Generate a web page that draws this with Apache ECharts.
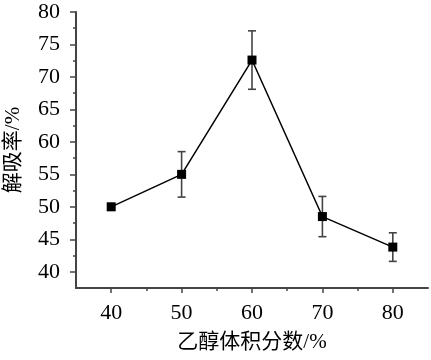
<!DOCTYPE html>
<html>
<head>
<meta charset="utf-8">
<script src="https://cdn.jsdelivr.net/npm/echarts@6/dist/echarts.min.js"></script>
<style>html,body{margin:0;padding:0;background:#fff;}#c{width:431px;height:360px;}</style>
</head>
<body>
<div id="c"></div>
<script>
const xValues = [40, 50, 60, 70, 80];
const yValues = [50.0, 55.0, 72.6, 48.5, 43.8];
const errValues = [0.5, 3.5, 4.5, 3.1, 2.2];
const xMajor = [40, 50, 60, 70, 80];
const xMinor = [45, 55, 65, 75];
const yMajor = [40, 45, 50, 55, 60, 65, 70, 75, 80];
const yMinor = [42.5, 47.5, 52.5, 57.5, 62.5, 67.5, 72.5, 77.5];
const xName = '乙醇体积分数/%';
const yName = '解吸率/%';

const font = '"Liberation Serif", "Noto Sans CJK SC", serif';
const axisColor = '#444';

const chart = echarts.init(document.getElementById('c'));
const pts = xValues.map((x, i) => [x, yValues[i]]);
const errData = xValues.map((x, i) => [x, yValues[i] - errValues[i], yValues[i] + errValues[i]]);

chart.setOption({
  animation: false,
  backgroundColor: '#fff',
  grid: { left: 76, right: 3, top: 12, bottom: 72, containLabel: false, outerBoundsMode: 'none' },
  xAxis: [{
    type: 'value', min: 35, max: 85, position: 'bottom',
    name: xName, nameLocation: 'middle', nameGap: 44,
    nameTextStyle: { fontFamily: font, fontSize: 21, color: '#000' },
    axisLine: { show: true, lineStyle: { color: axisColor, width: 2 } },
    axisTick: { show: true, customValues: xMajor, length: 5, lineStyle: { color: axisColor, width: 1.5 } },
    axisLabel: { customValues: xMajor, fontFamily: font, fontSize: 22, color: '#000', margin: 14 },
    splitLine: { show: false }
  }, {
    type: 'value', min: 35, max: 85, position: 'bottom',
    axisLine: { show: false },
    axisTick: { show: true, customValues: xMinor, length: 3, lineStyle: { color: axisColor, width: 1.5 } },
    axisLabel: { show: false },
    splitLine: { show: false }
  }],
  yAxis: [{
    type: 'value', min: 37.5, max: 80, position: 'left',
    name: yName, nameLocation: 'middle', nameGap: 52, nameRotate: 90,
    nameTextStyle: { fontFamily: font, fontSize: 21, color: '#000' },
    axisLine: { show: true, lineStyle: { color: axisColor, width: 2 } },
    axisTick: { show: true, customValues: yMajor, length: 6, lineStyle: { color: axisColor, width: 1.5 } },
    axisLabel: { customValues: yMajor, fontFamily: font, fontSize: 22, color: '#000', margin: 16 },
    splitLine: { show: false }
  }, {
    type: 'value', min: 37.5, max: 80, position: 'left',
    axisLine: { show: false },
    axisTick: { show: true, customValues: yMinor, length: 3, lineStyle: { color: axisColor, width: 1.5 } },
    axisLabel: { show: false },
    splitLine: { show: false }
  }],
  series: [{
    type: 'custom',
    xAxisIndex: 0, yAxisIndex: 0,
    data: errData,
    z: 1,
    renderItem: function (params, api) {
      const x = api.value(0);
      const lo = api.coord([x, api.value(1)]);
      const hi = api.coord([x, api.value(2)]);
      const w = 4;
      const style = { stroke: '#444', lineWidth: 1.6 };
      return {
        type: 'group',
        children: [
          { type: 'line', shape: { x1: lo[0], y1: lo[1], x2: hi[0], y2: hi[1] }, style: style },
          { type: 'line', shape: { x1: lo[0] - w, y1: lo[1], x2: lo[0] + w, y2: lo[1] }, style: style },
          { type: 'line', shape: { x1: hi[0] - w, y1: hi[1], x2: hi[0] + w, y2: hi[1] }, style: style }
        ]
      };
    }
  }, {
    type: 'line',
    xAxisIndex: 0, yAxisIndex: 0,
    data: pts,
    z: 2,
    symbol: 'rect', symbolSize: 9,
    itemStyle: { color: '#000' },
    lineStyle: { color: '#000', width: 1.5 }
  }]
});
</script>
</body>
</html>
